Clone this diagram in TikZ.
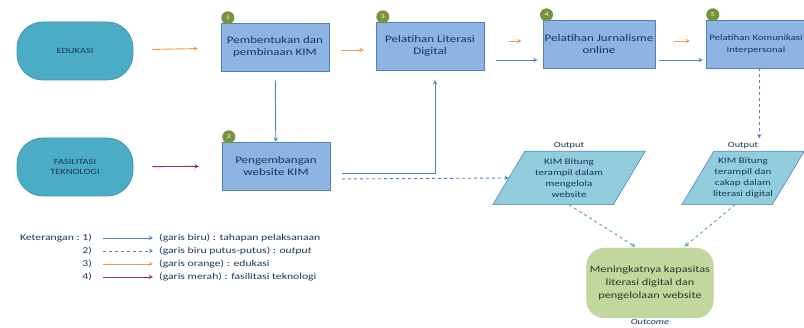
\documentclass[tikz,border=0pt]{standalone}
\usepackage{fontspec}
\setmainfont{Carlito}[FakeStretch=1.3]
\usepackage{tikz}
\usetikzlibrary{shapes,arrows,positioning,calc,backgrounds}
\usepackage{xcolor}
\definecolor{pill-teal}{RGB}{75,172,198}
\definecolor{pill-dark}{RGB}{60,150,175}
\definecolor{box-blue}{RGB}{141,180,226}
\definecolor{line-blue}{RGB}{79,129,189}
\definecolor{out-teal}{RGB}{146,205,220}
\definecolor{out-green}{RGB}{195,214,155}
\definecolor{badge-green}{RGB}{119,147,60}
\definecolor{edu-orange}{RGB}{247,150,70}
\definecolor{tek-red}{RGB}{149,55,53}
\definecolor{res-teal}{RGB}{80,170,150}
\definecolor{txt-dark}{RGB}{23,55,94}

\begin{document}
\begin{tikzpicture}[x=1pt, y=-1pt,
    pill/.style={rectangle, draw=pill-dark, fill=pill-teal, rounded corners=26pt, minimum width=116pt, minimum height=58pt, align=center, font=\fontsize{8}{10}\selectfont, text=txt-dark, line width=0.8pt},
    box/.style={rectangle, draw=line-blue, fill=box-blue, minimum width=108pt, minimum height=48pt, align=center, inner sep=2pt, font=\fontsize{10}{12}\selectfont, text=txt-dark},
    badge/.style={circle, fill=badge-green, inner sep=0pt, minimum size=13pt, font=\fontsize{6}{6}\selectfont, text=white},
    outtext/.style={rectangle, minimum height=53pt, inner sep=0pt, align=center, font=\fontsize{8.5}{11}\selectfont, text=txt-dark},
    outshape/.style={draw=line-blue, fill=out-teal, line width=0.6pt},
    outcome/.style={rectangle, draw=out-green!80!black!60, fill=out-green, rounded corners=18pt, minimum width=126pt, minimum height=70pt, align=center, font=\fontsize{9.5}{13}\selectfont, text=black!80},
    lbl/.style={font=\fontsize{8}{10}\selectfont, text=txt-dark, inner sep=1pt},
    key/.style={font=\fontsize{9}{10}\selectfont, text=txt-dark, inner sep=1pt},
    arrow/.style={->, >=stealth, line width=0.9pt}]

    \useasboundingbox (0,0) rectangle (804,328);

    % Inputs
    \node[pill] (edu) at (75,51) {EDUKASI};
    \node[pill] (fas) at (75,167) {FASILITASI\\TEKNOLOGI};

    % Boxes - Row 1
    \node[box] (box1) at (275,47) {Pembentukan dan\\pembinaan KIM};
    \node[box] (box3) at (430,46) {Pelatihan Literasi\\Digital};
    \node[box] (box4) at (599,44) {Pelatihan Jurnalisme\\online};
    \node[box, minimum width=100pt, font=\fontsize{8.3}{12}\selectfont] (box5) at (756,44) {Pelatihan Komunikasi\\Interpersonal};
    % Boxes - Row 2
    \node[box] (box2) at (276,166) {Pengembangan\\website KIM};

    % Badges
    \node[badge] (b1) at ([xshift=7pt,yshift=5pt]box1.north west) {1};
    \node[badge] (b2) at ([xshift=7pt,yshift=5pt]box2.north west) {2};
    \node[badge] (b3) at ([xshift=7pt,yshift=5pt]box3.north west) {3};
    \node[badge] (b4) at ([xshift=4pt,yshift=5pt]box4.north west) {4};
    \node[badge] (b5) at ([xshift=7pt,yshift=5pt]box5.north west) {5};

    % Outputs
    \node[outtext, minimum width=120pt] (out1) at (569,178) {KIM Bitung\\terampil dalam\\mengelola\\website};
    \node[outtext, minimum width=90pt] (out2) at (743,178) {KIM Bitung\\terampil dan\\cakap dalam\\literasi digital};
    \node[lbl, above=1pt of out1] (lo1) {Output};
    \node[lbl, above=1pt of out2] (lo2) {Output};
    \begin{scope}[on background layer]
        \draw[outshape] ([xshift=16pt]out1.north west) -- ([xshift=16pt]out1.north east) -- ([xshift=-16pt]out1.south east) -- ([xshift=-16pt]out1.south west) -- cycle;
        \draw[outshape] ([xshift=16pt]out2.north west) -- ([xshift=16pt]out2.north east) -- ([xshift=-16pt]out2.south east) -- ([xshift=-16pt]out2.south west) -- cycle;
    \end{scope}

    % Outcome
    \node[outcome] (res) at (650,283) {Meningkatnya kapasitas\\literasi digital dan\\pengelolaan website};
    \node[lbl, below=0pt of res, font=\fontsize{8}{10}\selectfont\itshape] (lres) {Outcome};

    % Arrows
    \draw[arrow, edu-orange, shorten <=19pt, shorten >=23pt] (edu) -- (box1);
    \draw[arrow, tek-red, shorten <=19pt, shorten >=23pt] (fas) -- (box2);
    \draw[arrow, line-blue, shorten <=9pt] (box1) -- (box2);
    \draw[arrow, edu-orange, shorten <=12pt, shorten >=12pt] ([yshift=-3pt]box1.east) -- ([yshift=-3pt]box1.east -| box3.west);
    \draw[arrow, edu-orange, shorten <=25pt, shorten >=21pt] ([yshift=5pt]box3.east) -- ([yshift=5pt]box3.east -| box4.west);
    \draw[arrow, line-blue, shorten <=12pt, shorten >=5pt] ([yshift=-14pt]box3.east) -- ([yshift=-14pt]box3.east -| box4.west);
    \draw[arrow, edu-orange, shorten <=19pt, shorten >=16pt] ([yshift=3pt]box4.east) -- ([yshift=3pt]box4.east -| box5.west);
    \draw[arrow, line-blue, shorten <=4pt, shorten >=3pt] ([yshift=-16pt]box4.east) -- ([yshift=-16pt]box4.east -| box5.west);
    \draw[arrow, line-blue, shorten <=12pt, shorten >=10pt] ([yshift=-7pt]box2.east) -| ([xshift=5pt]box3.south);
    \draw[arrow, line-blue, dashed, shorten <=12pt] ([yshift=-13pt]box2.east) -- (out1.west);
    \draw[arrow, line-blue, dashed, shorten >=3pt] (box5.south -| lo2.east) -- (lo2.north east);
    \draw[arrow, res-teal, dashed, shorten >=2pt] (out1.south) -- ([xshift=-13pt]res.north);
    \draw[arrow, res-teal, dashed, shorten >=2pt] ([xshift=-8pt]out2.south) -- ([xshift=33pt]res.north);

    % Legend
    \node[key, anchor=east] (k1) at (93,238) {Keterangan :\ 1)};
    \node[key, anchor=east] (k2) at (93,251) {2)};
    \node[key, anchor=east] (k3) at (93,264) {3)};
    \node[key, anchor=east] (k4) at (93,277) {4)};
    \node[key, anchor=west] (t1) at (158,238) {(garis biru) : tahapan pelaksanaan};
    \node[key, anchor=west] (t2) at (158,251) {(garis biru putus-putus) : \textit{output}};
    \node[key, anchor=west] (t3) at (158,264) {(garis orange) : edukasi};
    \node[key, anchor=west] (t4) at (158,277) {(garis merah) : fasilitasi teknologi};
    \draw[arrow, line-blue, shorten <=10pt, shorten >=5pt] (k1) -- (t1);
    \draw[arrow, line-blue, dashed, shorten <=10pt, shorten >=5pt] (k2) -- (t2);
    \draw[arrow, edu-orange, shorten <=10pt, shorten >=5pt] (k3) -- (t3);
    \draw[arrow, tek-red, shorten <=10pt, shorten >=5pt] (k4) -- (t4);
\end{tikzpicture}
\end{document}
